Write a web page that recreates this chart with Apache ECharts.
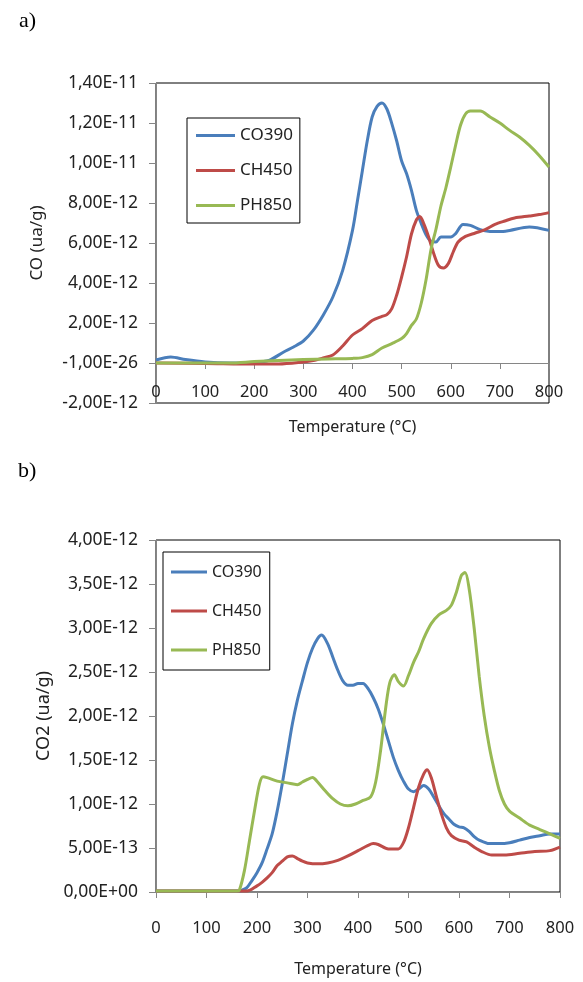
<!DOCTYPE html>
<html>
<head>
<meta charset="utf-8">
<script src="https://cdn.jsdelivr.net/npm/echarts@6/dist/echarts.min.js"></script>
<style>
html, body { margin: 0; padding: 0; background: #fff; }
#chart { width: 583px; height: 982px; }
</style>
</head>
<body>
<div id="chart"></div>
<script>
// a) CO signal, values in units of 1E-12 ua/g
const tA_co390 = [0, 30, 60, 100, 150, 200, 230, 260, 280, 300, 320, 340, 360, 380, 400, 410, 420, 430, 440, 450, 460, 470, 480, 490, 500, 510, 520, 530, 540, 550, 560, 570, 580, 600, 610, 625, 640, 660, 680, 700, 720, 760, 800]
const vA_co390 = [0.15, 0.3, 0.17, 0.05, 0, 0.03, 0.13, 0.55, 0.8, 1.1, 1.63, 2.38, 3.3, 4.63, 6.63, 8.1, 9.6, 11.1, 12.3, 12.83, 13.0, 12.7, 11.97, 11.1, 10.1, 9.47, 8.63, 7.63, 6.97, 6.4, 6.08, 6.05, 6.3, 6.3, 6.47, 6.93, 6.88, 6.67, 6.58, 6.57, 6.63, 6.8, 6.63]
const tA_ch450 = [0, 100, 200, 250, 300, 320, 340, 360, 380, 400, 420, 440, 460, 470, 480, 490, 500, 510, 520, 530, 537, 545, 555, 565, 575, 585, 595, 605, 615, 630, 650, 670, 690, 710, 730, 760, 780, 800]
const vA_ch450 = [0, -0.02, -0.05, -0.05, 0.05, 0.12, 0.25, 0.4, 0.85, 1.4, 1.72, 2.12, 2.33, 2.42, 2.72, 3.4, 4.3, 5.3, 6.45, 7.15, 7.32, 6.97, 6.3, 5.5, 4.88, 4.75, 4.97, 5.55, 6.05, 6.33, 6.5, 6.67, 6.93, 7.1, 7.25, 7.35, 7.42, 7.52]
const tA_ph850 = [0, 150, 200, 250, 300, 350, 400, 420, 440, 460, 480, 500, 510, 520, 530, 540, 550, 560, 570, 580, 590, 600, 610, 620, 630, 640, 660, 680, 700, 720, 740, 760, 780, 800]
const vA_ph850 = [0, 0, 0.07, 0.13, 0.17, 0.2, 0.23, 0.27, 0.42, 0.75, 0.97, 1.22, 1.47, 1.88, 2.2, 3.0, 4.2, 5.7, 6.7, 7.85, 8.75, 9.8, 10.9, 11.9, 12.45, 12.6, 12.6, 12.3, 12.0, 11.63, 11.3, 10.88, 10.38, 9.8]
const yLabelsA = ['-2,00E-12', '-1,00E-26', '2,00E-12', '4,00E-12', '6,00E-12', '8,00E-12', '1,00E-11', '1,20E-11', '1,40E-11']

// b) CO2 signal, values in units of 1E-12 ua/g
const tB_co390 = [0, 165, 170, 180, 190, 200, 210, 220, 230, 240, 250, 260, 270, 280, 290, 300, 310, 320, 328, 340, 350, 360, 370, 380, 390, 400, 410, 420, 430, 440, 450, 460, 470, 480, 490, 500, 510, 520, 530, 540, 550, 560, 570, 580, 590, 600, 610, 620, 630, 640, 660, 680, 700, 720, 740, 760, 780, 800]
const vB_co390 = [0.01, 0.01, 0.02, 0.05, 0.13, 0.22, 0.33, 0.49, 0.66, 0.92, 1.23, 1.57, 1.91, 2.18, 2.4, 2.61, 2.77, 2.88, 2.92, 2.82, 2.67, 2.52, 2.4, 2.35, 2.35, 2.37, 2.37, 2.31, 2.21, 2.08, 1.91, 1.72, 1.53, 1.38, 1.26, 1.17, 1.14, 1.17, 1.21, 1.17, 1.08, 0.98, 0.89, 0.83, 0.77, 0.74, 0.73, 0.69, 0.63, 0.59, 0.55, 0.55, 0.56, 0.59, 0.62, 0.64, 0.66, 0.66]
const tB_ch450 = [0, 170, 180, 200, 210, 220, 230, 240, 250, 260, 270, 280, 290, 300, 320, 340, 360, 380, 400, 420, 430, 440, 460, 480, 490, 500, 510, 520, 530, 537, 545, 555, 565, 575, 585, 600, 615, 630, 645, 665, 690, 720, 750, 780, 800]
const vB_ch450 = [0.01, 0.01, 0.01, 0.07, 0.11, 0.16, 0.22, 0.3, 0.35, 0.4, 0.41, 0.38, 0.35, 0.33, 0.32, 0.33, 0.36, 0.41, 0.47, 0.53, 0.55, 0.54, 0.49, 0.49, 0.56, 0.73, 0.96, 1.19, 1.34, 1.39, 1.3, 1.09, 0.89, 0.73, 0.64, 0.59, 0.57, 0.51, 0.46, 0.42, 0.42, 0.44, 0.46, 0.47, 0.51]
const tB_ph850 = [0, 160, 165, 175, 185, 195, 205, 212, 220, 240, 260, 280, 290, 300, 310, 320, 335, 350, 365, 380, 395, 410, 425, 435, 445, 455, 463, 472, 480, 490, 500, 510, 520, 530, 545, 560, 575, 585, 595, 605, 612, 620, 630, 640, 650, 660, 670, 680, 690, 700, 720, 740, 760, 780, 800]
const vB_ph850 = [0.01, 0.01, 0.02, 0.24, 0.58, 0.92, 1.23, 1.31, 1.3, 1.26, 1.24, 1.22, 1.25, 1.28, 1.3, 1.25, 1.15, 1.06, 1.0, 0.98, 1.0, 1.04, 1.08, 1.25, 1.62, 2.1, 2.38, 2.47, 2.39, 2.34, 2.46, 2.61, 2.73, 2.88, 3.05, 3.15, 3.2, 3.26, 3.41, 3.6, 3.63, 3.45, 3.0, 2.45, 2.0, 1.65, 1.38, 1.15, 1.0, 0.92, 0.84, 0.76, 0.71, 0.66, 0.61]
const yLabelsB = ['0,00E+00', '5,00E-13', '1,00E-12', '1,50E-12', '2,00E-12', '2,50E-12', '3,00E-12', '3,50E-12', '4,00E-12']

const seriesNames = ['CO390', 'CH450', 'PH850']
const colors = ['#4a7ebb', '#be4b48', '#98b954']

const font = 'Noto Sans'
const axisGray = '#868686'

function zip(t, v) {
  return t.map((x, i) => [x, v[i]])
}

function lineSeries(name, color, data, idx) {
  return {
    name: name,
    type: 'line',
    xAxisIndex: idx,
    yAxisIndex: idx,
    data: data,
    smooth: 0.3,
    symbol: 'none',
    lineStyle: { color: color, width: 3 },
    itemStyle: { color: color }
  }
}

// x axis sits on the zero line: in a) that is 40px above the grid bottom
function xAxisOpt(idx, offset, margin, nameGap) {
  return {
    type: 'value',
    gridIndex: idx,
    min: 0,
    max: 800,
    interval: 100,
    offset: offset,
    name: 'Temperature (°C)',
    nameLocation: 'middle',
    nameGap: nameGap,
    nameTextStyle: { fontFamily: font, fontSize: 16, color: '#222' },
    axisLine: { onZero: false, lineStyle: { color: axisGray, width: 1 } },
    axisTick: { show: true, length: 6, lineStyle: { color: axisGray } },
    axisLabel: { margin: margin, fontFamily: font, fontSize: 16.5, color: '#222' },
    splitLine: { show: false },
    z: 3
  }
}

function yAxisOpt(idx, min, max, interval, labels, name, nameGap, nameSize) {
  return {
    type: 'value',
    gridIndex: idx,
    min: min,
    max: max,
    interval: interval,
    name: name,
    nameLocation: 'middle',
    nameRotate: 90,
    nameGap: nameGap,
    nameTextStyle: { fontFamily: font, fontSize: nameSize, color: '#222' },
    axisLine: { show: true, lineStyle: { color: axisGray, width: 1 } },
    axisTick: { show: true, length: 7, lineStyle: { color: axisGray } },
    axisLabel: {
      margin: 18,
      fontFamily: font,
      fontSize: 17.5,
      color: '#222',
      formatter: v => labels[Math.round((v - min) / interval)]
    },
    splitLine: { show: false },
    z: 3
  }
}

function legendOpt(left, top, padding, itemWidth, itemGap, lineHeight, fontSize) {
  return {
    orient: 'vertical',
    left: left,
    top: top,
    data: seriesNames,
    icon: 'rect',
    itemWidth: itemWidth,
    itemHeight: 3,
    itemGap: itemGap,
    padding: padding,
    borderColor: '#000',
    borderWidth: 1,
    borderRadius: 0,
    backgroundColor: '#fff',
    selectedMode: false,
    textStyle: { fontFamily: font, fontSize: fontSize, lineHeight: lineHeight, color: '#222' }
  }
}

const chart = echarts.init(document.getElementById('chart'), null, { renderer: 'canvas' })

const option = {
  animation: false,
  backgroundColor: '#fff',
  title: [
    { text: 'a)', left: 14, top: 5, textStyle: { fontFamily: 'Liberation Serif', fontSize: 22, fontWeight: 'normal', color: '#000' } },
    { text: 'b)', left: 13, top: 455, textStyle: { fontFamily: 'Liberation Serif', fontSize: 22, fontWeight: 'normal', color: '#000' } }
  ],
  grid: [
    { left: 156, top: 83, width: 393, height: 320, show: true, borderColor: '#000', borderWidth: 1, backgroundColor: 'transparent' },
    { left: 156, top: 540, width: 404, height: 352, show: true, borderColor: '#000', borderWidth: 1, backgroundColor: 'transparent' }
  ],
  xAxis: [
    xAxisOpt(0, -40, 21, 56),
    xAxisOpt(1, 0, 28, 69)
  ],
  yAxis: [
    yAxisOpt(0, -2, 14, 2, yLabelsA, 'CO (ua/g)', 110, 17),
    yAxisOpt(1, 0, 4, 0.5, yLabelsB, 'CO2 (ua/g)', 100, 18)
  ],
  legend: [
    legendOpt(187, 118, [9, 7, 9, 9], 39, 18, 15, 17),
    legendOpt(163, 552, [12, 8, 12, 8], 36, 23, 16, 16)
  ],
  series: [
    lineSeries(seriesNames[0], colors[0], zip(tA_co390, vA_co390), 0),
    lineSeries(seriesNames[1], colors[1], zip(tA_ch450, vA_ch450), 0),
    lineSeries(seriesNames[2], colors[2], zip(tA_ph850, vA_ph850), 0),
    lineSeries(seriesNames[0], colors[0], zip(tB_co390, vB_co390), 1),
    lineSeries(seriesNames[1], colors[1], zip(tB_ch450, vB_ch450), 1),
    lineSeries(seriesNames[2], colors[2], zip(tB_ph850, vB_ph850), 1)
  ]
}

chart.setOption(option)
</script>
</body>
</html>
